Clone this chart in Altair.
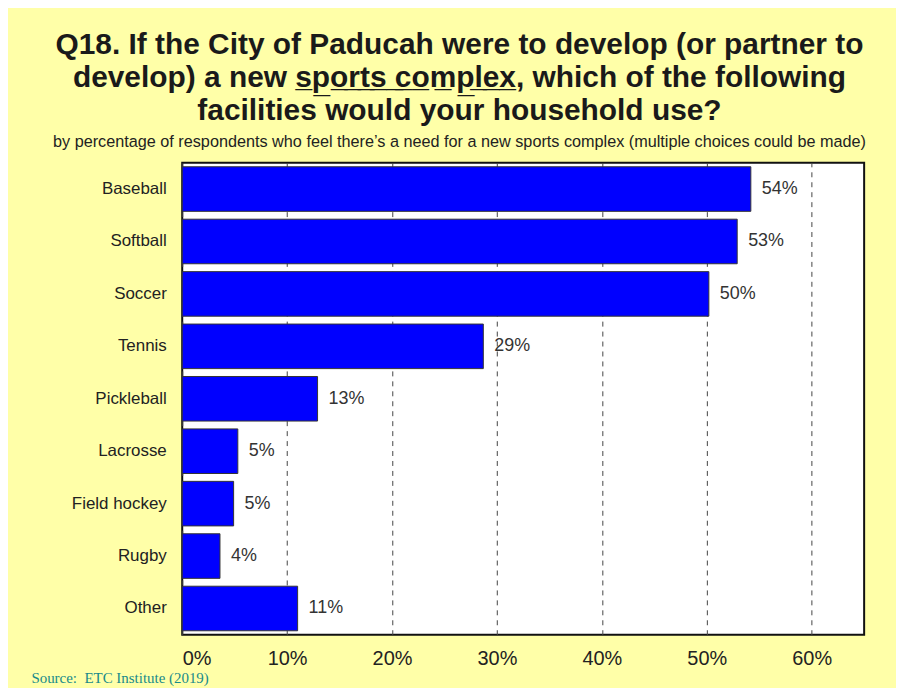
import altair as alt
import pandas as pd

categories = ["Baseball", "Softball", "Soccer", "Tennis", "Pickleball",
              "Lacrosse", "Field hockey", "Rugby", "Other"]
values = [54.2, 52.9, 50.2, 28.7, 12.9, 5.3, 4.9, 3.6, 11.0]
labels = ["54%", "53%", "50%", "29%", "13%", "5%", "5%", "4%", "11%"]
x_ticks = [0, 10, 20, 30, 40, 50, 60]

df = pd.DataFrame({"cat": categories, "val": values, "lab": labels})

U = "\u0332"
underlined = "".join(ch + U for ch in "sports complex")
title_lines = [
    "Q18. If the City of Paducah were to develop (or partner to",
    "develop) a new " + underlined + ", which of the following",
    "facilities would your household use?",
]
subtitle = ("by percentage of respondents who feel there\u2019s a need for a new "
            "sports complex (multiple choices could be made)")

FONT = "Liberation Sans"

y_enc = alt.Y("cat:N", sort=categories,
              scale=alt.Scale(paddingInner=0.15, paddingOuter=0.075),
              axis=alt.Axis(title=None, ticks=False, domain=False,
                            labelFont=FONT, labelFontSize=17,
                            labelColor="#222222", labelPadding=16))

x_enc = alt.X("val:Q", scale=alt.Scale(domain=[0, 65], nice=False),
              axis=alt.Axis(values=x_ticks, labelExpr="datum.value + '%'",
                            ticks=False, domain=False,
                            grid=True, gridDash=[5, 5], gridColor="#444444",
                            gridWidth=1,
                            labelFont=FONT, labelFontSize=20,
                            labelColor="#222222", labelPadding=14,
                            title="Source:\u00a0 ETC Institute (2019)",
                            titleFont="Liberation Serif", titleFontSize=15,
                            titleFontWeight="normal", titleColor="#178a8a",
                            titleAnchor="start", titleAlign="left",
                            titleBaseline="alphabetic",
                            titleX=-152, titleY=48))

bars = alt.Chart(df).mark_bar(color="#0000FF", stroke="#333333",
                              strokeWidth=1).encode(x=x_enc, y=y_enc)

text = alt.Chart(df).mark_text(align="left", baseline="middle", dx=11,
                               font=FONT, fontSize=18, color="#333333").encode(
    x=alt.X("val:Q"), y=alt.Y("cat:N", sort=categories), text="lab:N")

chart = alt.layer(bars, text).properties(
    width=685, height=474,
    padding={"left": 175, "top": 154, "right": 32, "bottom": 52},
    autosize=alt.AutoSizeParams(type="none"),
    background="#FFFFA8",
    title=alt.TitleParams(
        text=title_lines, subtitle=subtitle,
        font=FONT, fontSize=30, fontWeight="bold", color="#1a1a1a",
        lineHeight=33,
        subtitleFont=FONT, subtitleFontSize=16.3, subtitleColor="#222222",
        subtitlePadding=8,
        anchor="middle", frame="group", dx=-64, offset=13),
).configure_view(stroke="#111111", strokeWidth=2, fill="white")

chart.save("out.html", embed_options={"renderer": "svg", "actions": False})
